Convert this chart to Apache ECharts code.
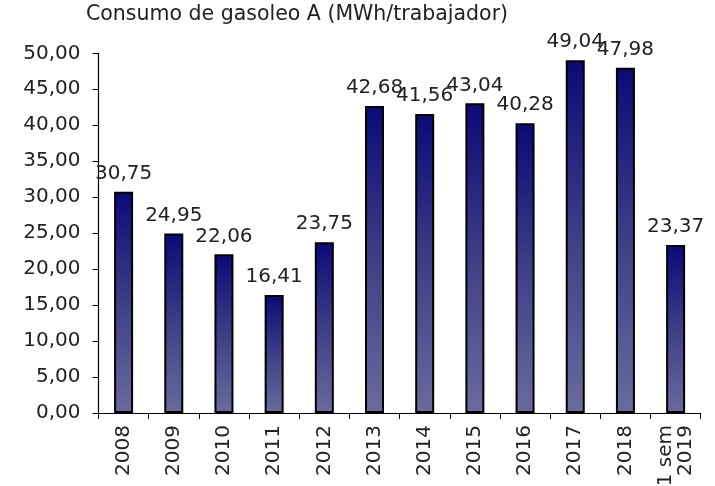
<!DOCTYPE html>
<html><head><meta charset="utf-8">
<script src="https://cdn.jsdelivr.net/npm/echarts@6/dist/echarts.min.js"></script>
<style>html,body{margin:0;padding:0;background:#fff}#c{width:715px;height:486px}</style>
</head><body><div id="c"></div>
<script>
const titleText = "Consumo de gasoleo A (MWh/trabajador)";
const categories = ["2008","2009","2010","2011","2012","2013","2014","2015","2016","2017","2018","1 sem\n2019"];
const values = [30.75,24.95,22.06,16.41,23.75,42.68,41.56,43.04,40.28,49.04,47.98,23.37];
const yMin = 0, yMax = 50, yStep = 5;
const fmt = v => v.toFixed(2).replace('.', ',');
const FONT = "DejaVu Sans";
const chart = echarts.init(document.getElementById('c'), null, {renderer:'canvas'});
chart.setOption({
  animation:false,
  backgroundColor:'#fff',
  title:{text:titleText,left:86,top:4,padding:0,textStyle:{fontFamily:FONT,fontSize:20.5,fontWeight:'normal',color:'#222'}},
  grid:{left:98.5,right:14.3,top:53.3,bottom:73,containLabel:false,outerBoundsMode:'none'},
  xAxis:{type:'category',data:categories,
    axisLine:{lineStyle:{color:'#000',width:1.2}},
    axisTick:{show:true,length:6,lineStyle:{color:'#000'},alignWithLabel:false},
    axisLabel:{rotate:90,margin:12,fontFamily:FONT,fontSize:20,color:'#222',interval:0,lineHeight:20}},
  yAxis:{type:'value',min:yMin,max:yMax,interval:yStep,
    axisLine:{show:true,lineStyle:{color:'#000',width:1.2}},
    axisTick:{show:true,length:6,lineStyle:{color:'#000'}},
    splitLine:{show:false},
    axisLabel:{margin:18,fontFamily:FONT,fontSize:20,color:'#222',formatter:fmt}},
  series:[{type:'bar',data:values,barWidth:19,
    itemStyle:{borderColor:'#000',borderWidth:2,
      color:new echarts.graphic.LinearGradient(0,0,0,1,[{offset:0,color:'#0a0a78'},{offset:0.5,color:'#3e3e86'},{offset:1,color:'#6a6a9e'}])},
    label:{show:true,position:'top',distance:8,fontFamily:FONT,fontSize:20,color:'#222',formatter:p=>fmt(p.value)}}]
});
</script></body></html>
